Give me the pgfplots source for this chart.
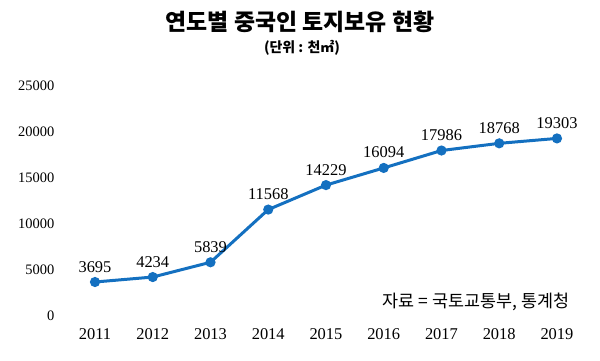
\documentclass[border=0pt]{standalone}
\usepackage{fontspec}
\setmainfont{Liberation Serif}
\newfontfamily\cjk{Noto Sans CJK KR}
\usepackage{pgfplots}
\pgfplotsset{compat=1.18}
\definecolor{lineblue}{HTML}{1470C0}
\begin{document}
\begin{tikzpicture}
\begin{axis}[name=ax, scale only axis, width=548.6bp, height=230bp,
  xmin=2010.2, xmax=2019.7, ymin=0, ymax=25000,
  axis line style={draw=none}, major tick length=0pt,
  scaled y ticks=false,
  ytick={0,5000,10000,15000,20000,25000}, xtick={2011,...,2019},
  /pgf/number format/.cd, 1000 sep={}, assume math mode=true, /pgfplots/.cd,
  yticklabel style={font=\fontsize{14.5}{14.5}\selectfont, anchor=east, xshift=9bp},
  xticklabel style={font=\fontsize{16.5}{16.5}\selectfont, anchor=north, yshift=-9bp},
  clip=false,
  nodes near coords,
  nodes near coords style={font=\fontsize{16.5}{16.5}\selectfont, text=black, anchor=south, yshift=5bp, /pgf/number format/.cd, 1000 sep={}, assume math mode=true},
]
\addplot[color=lineblue, line width=3bp, mark=*, mark size=3.5bp, mark options={fill=lineblue, draw=lineblue}] coordinates {
(2011,3695) (2012,4234) (2013,5839) (2014,11568) (2015,14229) (2016,16094) (2017,17986) (2018,18768) (2019,19303)};
\end{axis}
\node[font=\cjk\bfseries\fontsize{23}{23}\selectfont] at ([xshift=251.2bp,yshift=294bp]ax.south west) {연도별 중국인 토지보유 현황};
\node[font=\cjk\bfseries\fontsize{14}{14}\selectfont] at ([xshift=253.2bp,yshift=268bp]ax.south west) {(단위 : 천㎡)};
\node[font=\cjk\fontsize{17.5}{17.5}\selectfont, anchor=east] at ([xshift=524.2bp,yshift=14bp]ax.south west) {자료 = 국토교통부, 통계청};
\pgfresetboundingbox
\path ([xshift=-48.8bp,yshift=-45bp]ax.south west) rectangle ++(600bp,361bp);
\end{tikzpicture}
\end{document}
